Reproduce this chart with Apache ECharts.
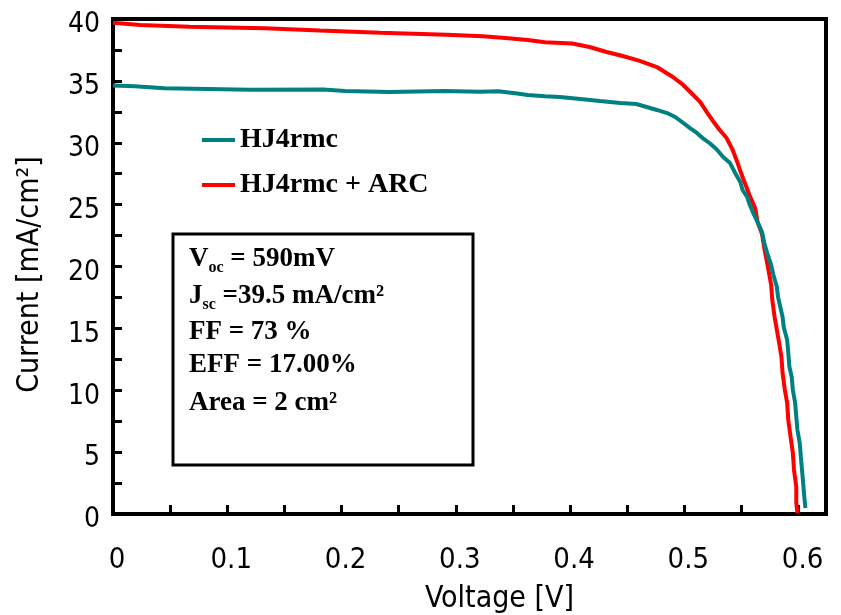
<!DOCTYPE html>
<html>
<head>
<meta charset="utf-8">
<script src="https://cdn.jsdelivr.net/npm/echarts@6/dist/echarts.min.js"></script>
<style>
html,body{margin:0;padding:0;background:#fff;}
#chart{width:841px;height:615px;}
</style>
</head>
<body>
<div id="chart"></div>
<script>
// ---- data ----
const seriesNames = ['HJ4rmc', 'HJ4rmc + ARC'];

const voltageTeal = [0, 0.019, 0.045, 0.120, 0.184, 0.203, 0.242, 0.290, 0.321, 0.337, 0.352, 0.363, 0.378, 0.391, 0.409, 0.426, 0.444, 0.458, 0.467, 0.476, 0.485, 0.492, 0.499, 0.505, 0.511, 0.516, 0.522, 0.528, 0.534, 0.540, 0.544, 0.549, 0.551, 0.555, 0.557, 0.560, 0.564, 0.568, 0.570, 0.573, 0.576, 0.578, 0.581, 0.582, 0.584, 0.586, 0.587, 0.590, 0.591, 0.592, 0.594, 0.595, 0.597, 0.598, 0.599, 0.601, 0.602, 0.603, 0.604, 0.605, 0.606];
const currentTeal = [34.63, 34.56, 34.40, 34.29, 34.30, 34.18, 34.10, 34.18, 34.13, 34.16, 34.00, 33.86, 33.75, 33.70, 33.54, 33.37, 33.21, 33.13, 32.89, 32.65, 32.40, 32.08, 31.60, 31.19, 30.79, 30.38, 29.98, 29.49, 28.85, 28.36, 27.64, 26.83, 26.18, 25.62, 25.05, 24.40, 23.60, 22.79, 21.90, 20.93, 20.12, 19.31, 18.34, 17.54, 16.73, 15.92, 15.11, 14.06, 13.01, 11.88, 11.07, 10.02, 8.97, 7.84, 6.79, 5.74, 4.61, 3.56, 2.51, 1.37, 0.48];

const voltageRed = [0, 0.024, 0.067, 0.133, 0.181, 0.234, 0.292, 0.324, 0.346, 0.363, 0.378, 0.402, 0.417, 0.432, 0.446, 0.461, 0.476, 0.490, 0.499, 0.507, 0.514, 0.520, 0.525, 0.531, 0.537, 0.542, 0.546, 0.549, 0.553, 0.557, 0.562, 0.564, 0.568, 0.570, 0.573, 0.576, 0.577, 0.579, 0.581, 0.583, 0.585, 0.586, 0.588, 0.590, 0.591, 0.593, 0.595, 0.596, 0.598, 0.598, 0.599];
const currentRed = [39.70, 39.52, 39.38, 39.25, 39.07, 38.89, 38.73, 38.60, 38.44, 38.30, 38.12, 38.02, 37.74, 37.33, 37.01, 36.61, 36.12, 35.31, 34.67, 33.94, 33.29, 32.44, 31.76, 31.03, 30.38, 29.49, 28.53, 27.72, 26.75, 25.78, 24.73, 23.64, 22.63, 21.49, 20.04, 18.51, 17.29, 15.92, 14.87, 13.82, 12.69, 11.39, 10.02, 8.97, 7.60, 6.22, 4.93, 3.56, 2.18, 0.89, 0.08];

const xTicks = [0, 0.05, 0.1, 0.15, 0.2, 0.25, 0.3, 0.35, 0.4, 0.45, 0.5, 0.55, 0.6];
const xTickLabels = [0, 0.1, 0.2, 0.3, 0.4, 0.5, 0.6];
const yTicks = [0, 2.5, 5, 7.5, 10, 12.5, 15, 17.5, 20, 22.5, 25, 27.5, 30, 32.5, 35, 37.5, 40];
const yTickLabels = [0, 5, 10, 15, 20, 25, 30, 35, 40];

const infoLines = [
  '{m|V}{s|oc}{m| = 590mV}',
  '{m|J}{s|sc}{m| =39.5 mA/cm²}',
  '{m|FF = 73 %}',
  '{m|EFF = 17.00%}',
  '{m|Area = 2 cm²}'
];

// ---- chart ----
const zip = (xs, ys) => xs.map((x, i) => [x, ys[i]]);
const SANS = "'Liberation Sans Narrow', 'DejaVu Sans Condensed', 'Liberation Sans', sans-serif";
const SERIF = "'Liberation Serif', 'DejaVu Serif', serif";

const chart = echarts.init(document.getElementById('chart'), null, {renderer: 'canvas'});

const infoY = [262, 299, 335, 368, 406];
const infoTexts = infoLines.map((t, i) => ({
  type: 'text',
  left: 189,
  top: infoY[i] - 16,
  z: 101,
  style: {
    text: t,
    fill: '#000',
    rich: {
      m: {fontFamily: SERIF, fontSize: 27, fontWeight: 'bold', lineHeight: 32, fill: '#000'},
      s: {fontFamily: SERIF, fontSize: 16, fontWeight: 'bold', lineHeight: 12, verticalAlign: 'bottom', fill: '#000'}
    }
  }
}));

chart.setOption({
  animation: false,
  backgroundColor: '#fff',
  grid: {
    left: 113, right: 15, top: 19, bottom: 101,
    containLabel: false,
    outerBoundsMode: 'none',
    show: true, borderColor: '#000', borderWidth: 4, backgroundColor: 'transparent'
  },
  legend: {
    data: seriesNames,
    orient: 'vertical',
    left: 202,
    top: 125,
    padding: 0,
    itemGap: 15,
    itemWidth: 33,
    itemHeight: 4,
    icon: 'rect',
    textStyle: {fontFamily: SERIF, fontSize: 28, fontWeight: 'bold', color: '#000', lineHeight: 30}
  },
  xAxis: {
    type: 'value',
    min: 0,
    max: 0.624,
    name: 'Voltage [V]',
    nameLocation: 'middle',
    nameGap: 70,
    nameTextStyle: {fontFamily: SANS, fontSize: 30, color: '#000', padding: [0, 0, 0, 60]},
    axisLine: {show: true, onZero: false, lineStyle: {color: '#000', width: 4}},
    axisTick: {show: true, inside: true, length: 9, customValues: xTicks, lineStyle: {color: '#000', width: 3}},
    axisLabel: {
      customValues: xTickLabels,
      margin: 32,
      fontFamily: SANS, fontSize: 29, color: '#000',
      padding: [0, 0, 0, 8],
      formatter: v => (v === 0 ? '0' : v.toFixed(1))
    },
    splitLine: {show: false}
  },
  yAxis: {
    type: 'value',
    min: 0,
    max: 40,
    name: 'Current [mA/cm²]',
    nameLocation: 'middle',
    nameGap: 68,
    nameRotate: 90,
    nameTextStyle: {fontFamily: SANS, fontSize: 30, color: '#000', padding: [0, 16, 0, 0]},
    axisLine: {show: true, onZero: false, lineStyle: {color: '#000', width: 4}},
    axisTick: {show: true, inside: true, length: 9, customValues: yTicks, lineStyle: {color: '#000', width: 3}},
    axisLabel: {
      customValues: yTickLabels,
      margin: 13,
      fontFamily: SANS, fontSize: 28, color: '#000',
      verticalAlign: 'top',
      lineHeight: 12
    },
    splitLine: {show: false}
  },
  series: [
    {
      name: seriesNames[0],
      type: 'line',
      data: zip(voltageTeal, currentTeal),
      showSymbol: false,
      color: '#008080',
      lineStyle: {color: '#008080', width: 4},
      z: 3
    },
    {
      name: seriesNames[1],
      type: 'line',
      data: zip(voltageRed, currentRed),
      showSymbol: false,
      color: '#ff0000',
      lineStyle: {color: '#ff0000', width: 4},
      z: 2
    }
  ],
  graphic: [
    {
      type: 'rect',
      z: 100,
      shape: {x: 173, y: 234, width: 300, height: 231},
      style: {fill: '#fff', stroke: '#000', lineWidth: 3}
    }
  ].concat(infoTexts)
});
</script>
</body>
</html>
